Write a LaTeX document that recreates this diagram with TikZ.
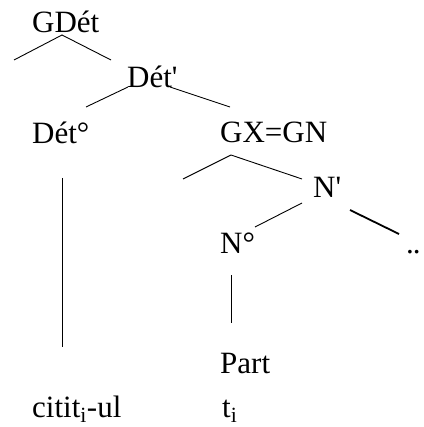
\documentclass[tikz,border=0pt]{standalone}
\usepackage{fontspec}
\setmainfont{Liberation Serif}
\usepackage{tikz}
\usetikzlibrary{positioning}

\begin{document}
\begin{tikzpicture}[x=1pt, y=-1pt,
                    word/.style={anchor=base west, inner sep=0pt, font=\fontsize{31}{37}\selectfont},
                    branch/.style={line width=0.9pt, black},
                    heavy/.style={line width=1.8pt, black},
                   ]

\useasboundingbox (0,0) rectangle (423,427);

% labels of the tree
\node[word] (gdet)    at (32,33)   {GDét};
\node[word] (detbar)  at (127,88)  {Dét\textquotesingle};
\node[word] (detzero) at (32,144)  {Dét°};
\node[word] (gxgn)    at (220,143) {GX=GN};
\node[word] (nbar)    at (313,198) {N\textquotesingle};
\node[word] (nzero)   at (220,253) {N°};
\node[word] (dots)    at (406,253) {.\kern-1pt.};
\node[word] (part)    at (220,373) {Part};
\node[word] (citit)   at (32,417)  {citit\textsubscript{i}-ul};
\node[word] (ti)      at (222,417) {t\textsubscript{i}};

% ends of the branches
\coordinate (gdet-top) at (62,35);
\coordinate (gdet-l)   at (14,60);
\coordinate (gdet-r)   at (111,60);
\coordinate (det-a)    at (128,87);
\coordinate (det-l)    at (86,107);
\coordinate (det-b)    at (170,87);
\coordinate (det-r)    at (230,107);
\coordinate (gx-top)   at (231,155);
\coordinate (gx-l)     at (183,179);
\coordinate (gx-r)     at (302,179);
\coordinate (nb-a)     at (302,203);
\coordinate (nb-l)     at (255,227);
\coordinate (nb-b)     at (350,210);
\coordinate (nb-r)     at (399,234);
\coordinate (dz-top)   at (62,178);
\coordinate (dz-bot)   at (62,347);
\coordinate (nz-top)   at (231,275);
\coordinate (nz-bot)   at (231,323);

\draw[branch] (gdet-l) -- (gdet-top) -- (gdet-r);
\draw[branch] (det-a) -- (det-l);
\draw[branch] (det-b) -- (det-r);
\draw[branch] (gx-l) -- (gx-top) -- (gx-r);
\draw[branch] (nb-a) -- (nb-l);
\draw[heavy]  (nb-b) -- (nb-r);
\draw[branch] (dz-top) -- (dz-bot);
\draw[branch] (nz-top) -- (nz-bot);

\end{tikzpicture}
\end{document}
